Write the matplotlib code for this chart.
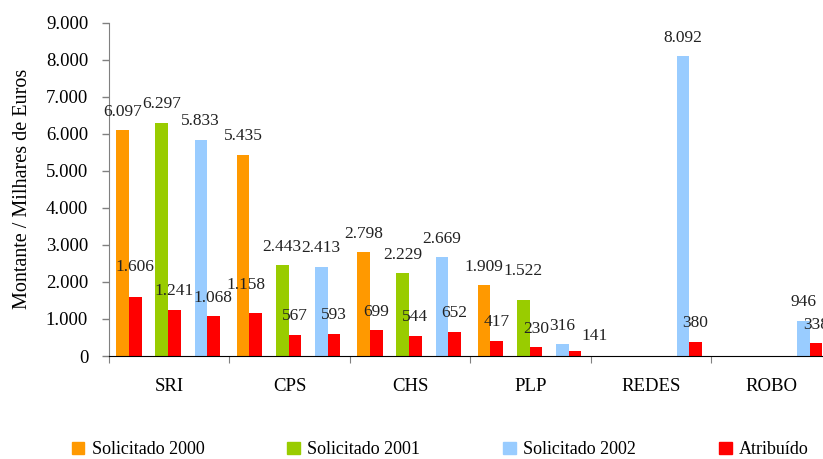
import numpy as np
import matplotlib
matplotlib.use("Agg")
import matplotlib.pyplot as plt
from matplotlib.patches import Patch

plt.rcParams['font.family'] = ['Liberation Serif', 'DejaVu Serif']

# dados (milhares de euros)
categorias = ['SRI', 'CPS', 'CHS', 'PLP', 'REDES', 'ROBO']
sol_2000 = [6097, 5435, 2798, 1909, 0, 0]
atr_2000 = [1606, 1158, 699, 417, 0, 0]
sol_2001 = [6297, 2443, 2229, 1522, 0, 0]
atr_2001 = [1241, 567, 544, 230, 0, 0]
sol_2002 = [5833, 2413, 2669, 316, 8092, 946]
atr_2002 = [1068, 593, 652, 141, 380, 338]
yticks = [0, 1000, 2000, 3000, 4000, 5000, 6000, 7000, 8000, 9000]
legenda = ['Solicitado 2000', 'Solicitado 2001', 'Solicitado 2002', 'Atribuído']

cores = ['#FF9900', '#99CC00', '#99CCFF']
vermelho = '#FF0000'

# pequenos ajustes manuais das etiquetas (dx, dy em pontos)
ajustes = {(0, 1): (0, 8), (1, 1): (-7, 7), (3, 2): (0, 7), (3, 5): (14, -3)}

fig = plt.figure(figsize=(8.23, 4.59), dpi=100)
ax = fig.add_axes([0.1324, 0.2244, 0.8785, 0.7264])

x = np.arange(len(categorias))
w = 0.104

def fmt(v):
    return f"{v:,}".replace(',', '.')

def etiqueta(xc, v, chave):
    if v <= 0:
        return
    dx, dy = ajustes.get(chave, (0, 0))
    ax.annotate(fmt(v), (xc, v), xytext=(dx, 10.5 + dy), textcoords='offset points',
                ha='center', va='baseline', fontsize=12.5, color='#222222')

pares = [(sol_2000, atr_2000), (sol_2001, atr_2001), (sol_2002, atr_2002)]
for k, (sol, atr) in enumerate(pares):
    fronteira = x + 0.166 + 0.324 * k
    ax.bar(fronteira - w / 2, sol, w, color=cores[k], linewidth=0)
    ax.bar(fronteira + w / 2, atr, w, color=vermelho, linewidth=0)
    for i in range(len(categorias)):
        etiqueta(fronteira[i] - w / 2, sol[i], (i, 2 * k))
        etiqueta(fronteira[i] + w / 2, atr[i], (i, 2 * k + 1))

ax.set_xlim(0, len(categorias))
ax.set_ylim(0, 9000)
ax.set_yticks(yticks)
ax.set_yticklabels([fmt(v) for v in yticks], fontsize=13.5)
ax.tick_params(axis='y', direction='out', length=5, width=1, color='#808080', pad=10)

ax.set_xticks(np.arange(len(categorias) + 1))
ax.set_xticklabels([])
ax.set_xticks(x + 0.5, minor=True)
ax.set_xticklabels(categorias, minor=True, fontsize=13.5)
ax.tick_params(axis='x', which='major', direction='out', length=5, color='#808080')
ax.tick_params(axis='x', which='minor', length=0, pad=16)

for s in ['top', 'right']:
    ax.spines[s].set_visible(False)
ax.spines['left'].set_color('#808080')
ax.spines['bottom'].set_color('black')

ax.set_ylabel('Montante / Milhares de Euros', fontsize=14.5, labelpad=10)

handles = [Patch(color=c) for c in cores + [vermelho]]
fig.legend(handles, legenda, loc='center', bbox_to_anchor=(0.535, 0.02), ncol=4,
           frameon=False, fontsize=13, handlelength=0.7, handleheight=0.7,
           handletextpad=0.4, columnspacing=4.6)

fig.savefig('out.png', dpi=100)
